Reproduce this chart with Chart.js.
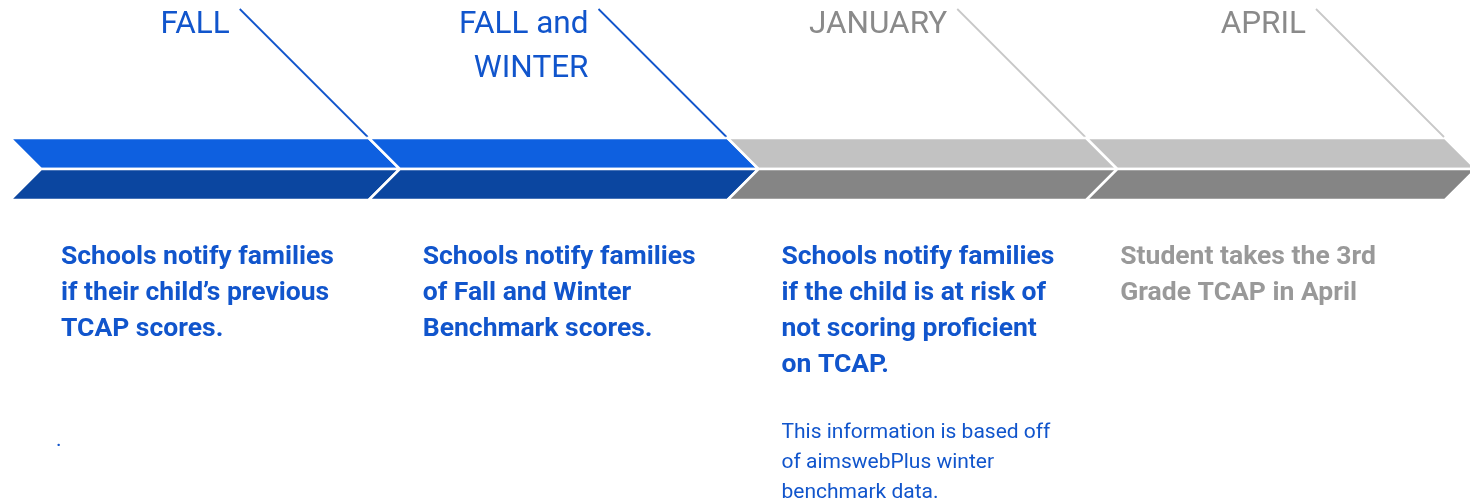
<!DOCTYPE html>
<html>
<head>
<meta charset="utf-8">
<style>
  html, body { margin: 0; padding: 0; background: #fff; }
  #wrap { position: relative; width: 1470px; height: 503px; }
</style>
</head>
<body>
<div id="wrap">
  <canvas id="timelineChart"></canvas>
</div>

<script src="https://cdn.jsdelivr.net/npm/chart.js@4.4.1/dist/chart.umd.min.js"></script>
<script>
  // timeline phases (each one spans one unit on the x axis)
  const phases = ['FALL', 'FALL and\nWINTER', 'JANUARY', 'APRIL'];
  const halves = ['upper', 'lower'];
  const descriptions = [
    ['Schools notify families', 'if their child\u2019s previous', 'TCAP scores.'],
    ['Schools notify families', 'of Fall and Winter', 'Benchmark scores.'],
    ['Schools notify families', 'if the child is at risk of', 'not scoring proficient', 'on TCAP.'],
    ['Student takes the 3rd', 'Grade TCAP in April']
  ];
  const notes = [['.'], [], ['This information is based off', 'of aimswebPlus winter', 'benchmark data.'], []];

  // styling
  const upperColors = ['#0e60e0', '#0e60e0', '#c2c2c2', '#c2c2c2'];
  const lowerColors = ['#0b46a0', '#0b46a0', '#858585', '#858585'];
  const textColors  = ['#1155cc', '#1155cc', '#8a8a8a', '#8a8a8a'];
  const pointerColors = ['#1155cc', '#1155cc', '#c8c8c8', '#c8c8c8'];
  const descColors  = ['#1155cc', '#1155cc', '#1155cc', '#999999'];
  const textIndent  = [51, 54, 54, 34];

  const datasets = phases.map((p, i) => ({
    label: p.replace('\n', ' '),
    data: halves.map(() => [i, i + 1]),
    backgroundColor: 'rgba(0,0,0,0)',
    grouped: false,
    barPercentage: 1,
    categoryPercentage: 1
  }));

  // draws each bar as a chevron half, plus pointer lines and texts
  const chevronPlugin = {
    id: 'chevrons',
    afterDatasetsDraw(chart) {
      const c = chart.ctx;
      c.save();
      chart.data.datasets.forEach((ds, i) => {
        const meta = chart.getDatasetMeta(i);
        meta.data.forEach((bar, j) => {
          const left = bar.base, right = bar.x;
          const top = bar.y - bar.height / 2, bottom = bar.y + bar.height / 2;
          const tip = bar.height;
          c.beginPath();
          if (j === 0) {
            c.moveTo(left, top);
            c.lineTo(right, top);
            c.lineTo(right + tip, bottom);
            c.lineTo(left + tip, bottom);
          } else {
            c.moveTo(left + tip, top);
            c.lineTo(right + tip, top);
            c.lineTo(right, bottom);
            c.lineTo(left, bottom);
          }
          c.closePath();
          c.fillStyle = j === 0 ? upperColors[i] : lowerColors[i];
          c.fill();
          c.strokeStyle = '#ffffff';
          c.lineWidth = 2.5;
          c.stroke();
        });

        // pointer line continuing the chevron edge upward
        const up = meta.data[0];
        const bandTop = up.y - up.height / 2;
        const lineTop = 9;
        const rise = bandTop - lineTop;
        c.beginPath();
        c.moveTo(up.x - rise, lineTop);
        c.lineTo(up.x - 1, bandTop - 1);
        c.strokeStyle = pointerColors[i];
        c.lineWidth = 1.8;
        c.stroke();

        // phase label
        c.fillStyle = textColors[i];
        c.font = '31.5px Roboto';
        c.textAlign = 'right';
        c.textBaseline = 'alphabetic';
        phases[i].split('\n').forEach((ln, k) => {
          c.fillText(ln, up.x - rise - 10, 33 + k * 44);
        });

        // description
        const x0 = up.base + textIndent[i];
        c.textAlign = 'left';
        c.textBaseline = 'middle';
        c.fillStyle = descColors[i];
        c.font = 'bold 26.5px Roboto';
        descriptions[i].forEach((ln, k) => c.fillText(ln, x0, 257 + k * 36));
        c.font = '21px Roboto';
        notes[i].forEach((ln, k) => {
          const y = ln === '.' ? 441 : 433 + k * 30;
          c.fillText(ln, ln === '.' ? x0 - 5 : x0, y);
        });
      });
      c.restore();
    }
  };

  new Chart(document.getElementById('timelineChart'), {
    type: 'bar',
    data: { labels: halves, datasets: datasets },
    options: {
      indexAxis: 'y',
      responsive: true,
      maintainAspectRatio: false,
      animation: false,
      layout: { padding: { left: 10, right: 25, top: 138, bottom: 303 } },
      scales: {
        x: { type: 'linear', min: 0, max: phases.length, display: false },
        y: { display: false }
      },
      plugins: {
        legend: { display: false },
        tooltip: { enabled: false }
      }
    },
    plugins: [chevronPlugin]
  });
</script>
</body>
</html>
